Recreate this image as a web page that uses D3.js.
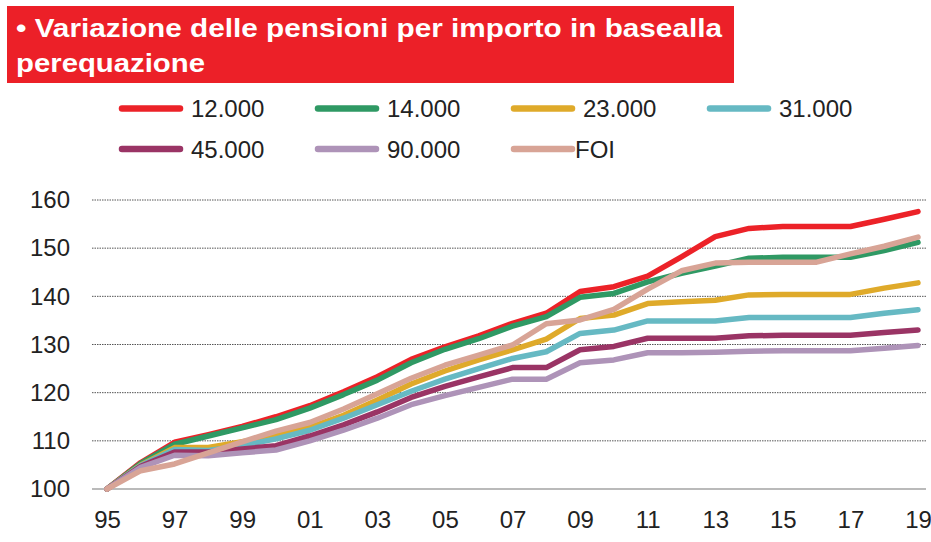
<!DOCTYPE html>
<html>
<head>
    <script type="text/javascript" src="https://d3js.org/d3.v7.min.js"></script>
    <style>
        body { margin: 0; background: #fff; }
        text { font-family: "Liberation Sans", Arial, sans-serif; }
    </style>
</head>
<body>
    <svg width="931" height="542"></svg>
    <script>
        // years 1995 - 2019, index base 1995 = 100
        const years = d3.range(1995, 2020);
        const tickYears = [1995, 1997, 1999, 2001, 2003, 2005, 2007, 2009, 2011, 2013, 2015, 2017, 2019];
        const yTicks = [100, 110, 120, 130, 140, 150, 160];

        const seriesNames = ["12.000", "14.000", "23.000", "31.000", "45.000", "90.000", "FOI"];
        const seriesColors = ["#ec2228", "#2f9964", "#dfaa2a", "#66b9c3", "#9a3465", "#ae93b8", "#d8a496"];

        const v12000 = [100, 105.5, 109.7, 111.3, 113, 115, 117.3, 120.2, 123.3, 126.9, 129.5, 131.8, 134.4, 136.5, 141, 142, 144.2, 148.2, 152.4, 154.1, 154.5, 154.5, 154.5, 156, 157.6];
        const v14000 = [100, 105.3, 109.3, 111, 112.7, 114.4, 116.8, 119.6, 122.6, 126.2, 129, 131.2, 133.8, 135.8, 139.8, 140.6, 143, 144.8, 146.3, 147.9, 148.1, 148.1, 148.1, 149.5, 151.2];
        const v23000 = [100, 105, 108.6, 108.6, 109.8, 111.1, 112.8, 115.3, 118.5, 121.8, 124.5, 126.8, 128.9, 131.1, 135.4, 136.1, 138.5, 138.9, 139.2, 140.3, 140.4, 140.4, 140.4, 141.7, 142.8];
        const v31000 = [100, 104.9, 108.2, 108, 109, 110.4, 112.2, 114.7, 117.5, 120.3, 122.8, 125, 127.1, 128.5, 132.3, 133, 134.9, 134.9, 134.9, 135.6, 135.6, 135.6, 135.6, 136.5, 137.2];
        const v45000 = [100, 104.7, 107.7, 107.7, 108.3, 109, 111, 113.3, 116, 119, 121.3, 123.3, 125.2, 125.2, 128.9, 129.6, 131.3, 131.3, 131.3, 131.8, 131.9, 131.9, 131.9, 132.5, 133];
        const v90000 = [100, 104.5, 107, 106.9, 107.5, 108.1, 110, 112.2, 114.7, 117.5, 119.4, 121.1, 122.8, 122.8, 126.2, 126.8, 128.3, 128.3, 128.4, 128.6, 128.7, 128.7, 128.7, 129.2, 129.8];
        const vFOI = [100, 103.8, 105.2, 107.5, 109.8, 112, 113.8, 116.6, 119.8, 123, 125.7, 127.8, 129.9, 134.3, 135.1, 137.3, 141.5, 145.3, 146.9, 147.1, 147.1, 147.1, 148.8, 150.4, 152.3];

        const allValues = [v12000, v14000, v23000, v31000, v45000, v90000, vFOI];

        const svg = d3.select("svg");

        // title box (text is a bit stretched horizontally in the original)
        svg.append("rect")
            .attr("x", 7).attr("y", 6)
            .attr("width", 727).attr("height", 77)
            .attr("fill", "#ec2028");
        const title = svg.append("text")
            .attr("fill", "#fff")
            .attr("font-weight", "bold")
            .attr("font-size", 25.5);
        title.append("tspan").attr("x", 16).attr("y", 37)
            .attr("textLength", 706).attr("lengthAdjust", "spacingAndGlyphs")
            .text("\u2022 Variazione delle pensioni per importo in basealla");
        title.append("tspan").attr("x", 16).attr("y", 72)
            .attr("textLength", 189).attr("lengthAdjust", "spacingAndGlyphs")
            .text("perequazione");

        // scales
        const x = d3.scaleLinear().domain([1995, 2019]).range([107, 918]);
        const y = d3.scaleLinear().domain([100, 160]).range([489, 200]);

        // grid
        const grid = svg.append("g");
        grid.selectAll("line")
            .data(yTicks.filter(d => d > 100))
            .enter()
            .append("line")
            .attr("x1", 92).attr("x2", 926)
            .attr("y1", d => y(d)).attr("y2", d => y(d))
            .attr("stroke", "#555")
            .attr("stroke-width", 1)
            .attr("stroke-dasharray", "1.5,1");

        // y axis labels
        const yAxis = svg.append("g")
            .attr("transform", "translate(92,0)")
            .call(d3.axisLeft(y).tickValues(yTicks).tickSize(0).tickPadding(22));
        yAxis.select(".domain").remove();
        yAxis.selectAll("text")
            .attr("font-size", 24)
            .attr("fill", "#222")
            .style("font-family", "'Liberation Sans', Arial, sans-serif");

        // x axis
        const xAxis = svg.append("g")
            .attr("transform", "translate(0,489)")
            .call(d3.axisBottom(x).tickValues(tickYears).tickSize(0).tickPadding(22)
                .tickFormat(d => String(d).slice(2)));
        xAxis.select(".domain").remove();
        xAxis.selectAll("text")
            .attr("font-size", 24)
            .attr("fill", "#222")
            .style("font-family", "'Liberation Sans', Arial, sans-serif");

        svg.append("line")
            .attr("x1", 92).attr("x2", 926)
            .attr("y1", y(100)).attr("y2", y(100))
            .attr("stroke", "#777")
            .attr("stroke-width", 1.2);

        // lines
        const line = d3.line()
            .x((d, i) => x(years[i]))
            .y(d => y(d));

        svg.append("g").selectAll("path")
            .data(allValues)
            .enter()
            .append("path")
            .attr("d", line)
            .attr("fill", "none")
            .attr("stroke", (d, i) => seriesColors[i])
            .attr("stroke-width", 5.5)
            .attr("stroke-linejoin", "round")
            .attr("stroke-linecap", "round");

        // legend
        const legendPos = [[122, 108.5], [318, 108.5], [514, 108.5], [710, 108.5], [122, 149], [318, 149], [514, 149]];
        const legend = svg.append("g").selectAll("g")
            .data(seriesNames)
            .enter()
            .append("g")
            .attr("transform", (d, i) => `translate(${legendPos[i][0]},${legendPos[i][1]})`);
        legend.append("line")
            .attr("x1", 0).attr("x2", 58)
            .attr("stroke", (d, i) => seriesColors[i])
            .attr("stroke-width", 6.5)
            .attr("stroke-linecap", "round");
        legend.append("text")
            .attr("x", (d, i) => i === 6 ? 61 : 69)
            .attr("dy", "0.36em")
            .attr("font-size", 24)
            .attr("fill", "#222")
            .text(d => d);
    </script>
</body>
</html>
